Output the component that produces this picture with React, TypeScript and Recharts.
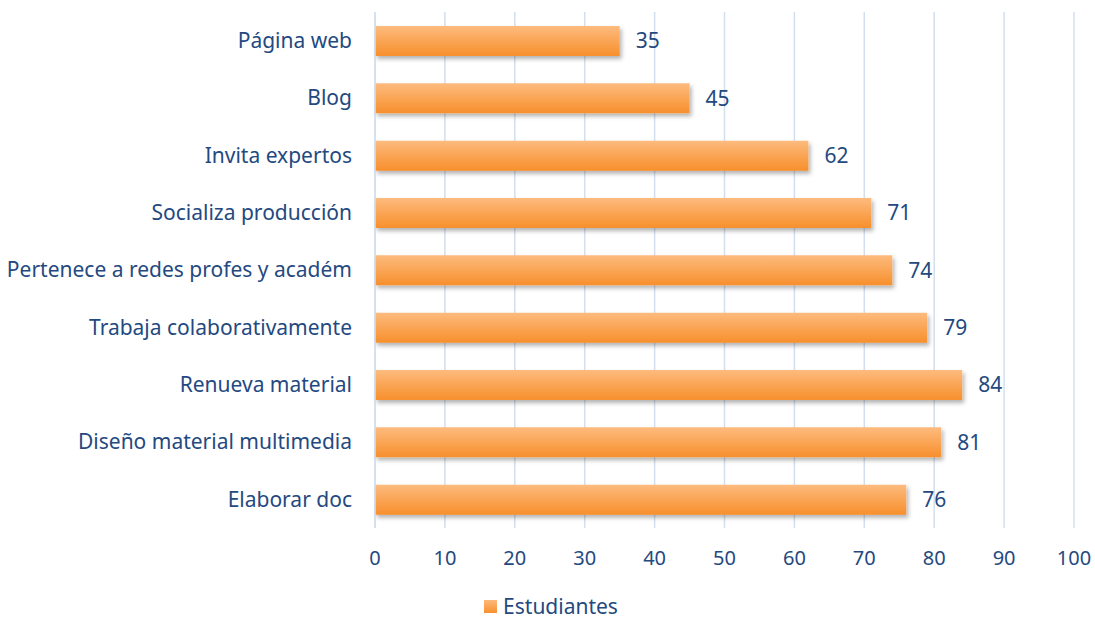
import React from 'react';
import {
  Bar,
  BarChart,
  CartesianGrid,
  LabelList,
  Legend,
  XAxis,
  YAxis,
} from 'recharts';

const categories = [
  'Página web',
  'Blog',
  'Invita expertos',
  'Socializa producción',
  'Pertenece a redes profes y académ',
  'Trabaja colaborativamente',
  'Renueva material',
  'Diseño material multimedia',
  'Elaborar doc',
];
const estudiantes = [35, 45, 62, 71, 74, 79, 84, 81, 76];
const xTicks = [0, 10, 20, 30, 40, 50, 60, 70, 80, 90, 100];

const data = categories.map((name, i) => ({ name, Estudiantes: estudiantes[i] }));

const TEXT = '#24497F';
const FONT = '"Noto Sans", "Open Sans", sans-serif';

function LegendContent() {
  return (
    <div style={{ display: 'flex', justifyContent: 'center', alignItems: 'center', height: 18, paddingLeft: 28, fontFamily: FONT, fontSize: 21, color: TEXT, lineHeight: '18px' }}>
      <span style={{ width: 13, height: 13, background: 'linear-gradient(#fdb97a, #f7902e)', marginRight: 6, display: 'inline-block' }} />
      <span>Estudiantes</span>
    </div>
  );
}

export default function App() {
  return (
    <div style={{ position: 'absolute', left: 0, top: 0, width: 1095, height: 621, background: '#fff' }}>
      <BarChart
        width={1095}
        height={621}
        data={data}
        layout="vertical"
        margin={{ top: 12, right: 21, left: 0, bottom: 0 }}
      >
        <defs>
          <linearGradient id="barFill" x1="0" y1="0" x2="0" y2="1">
            <stop offset="0%" stopColor="#fdbb7e" />
            <stop offset="100%" stopColor="#f78f2c" />
          </linearGradient>
          <filter id="barShadow" x="-5%" y="-20%" width="110%" height="160%">
            <feDropShadow dx="2" dy="3" stdDeviation="2" floodColor="#000" floodOpacity="0.3" />
          </filter>
        </defs>
        <CartesianGrid horizontal={false} stroke="#D3DFEE" strokeWidth={1.5} />
        <XAxis
          type="number"
          domain={[0, 100]}
          ticks={xTicks}
          axisLine={false}
          tickLine={false}
          tickMargin={17}
          height={75}
          tick={{ fill: TEXT, fontSize: 20, fontFamily: FONT }}
        />
        <YAxis
          type="category"
          dataKey="name"
          width={375}
          axisLine={{ stroke: '#D3DFEE', strokeWidth: 1.5 }}
          tickLine={false}
          tickMargin={17}
          tick={{ fill: TEXT, fontSize: 21, fontFamily: FONT }}
        />
        <Legend
          content={<LegendContent />}
          verticalAlign="bottom"
          height={18}
          wrapperStyle={{ bottom: 6, overflow: 'visible' }}
        />
        <Bar
          dataKey="Estudiantes"
          barSize={30}
          fill="url(#barFill)"
          filter="url(#barShadow)"
          isAnimationActive={false}
        >
          <LabelList
            dataKey="Estudiantes"
            position="right"
            offset={16}
            fill={TEXT}
            fontSize={21}
            fontFamily={FONT}
          />
        </Bar>
      </BarChart>
    </div>
  );
}
